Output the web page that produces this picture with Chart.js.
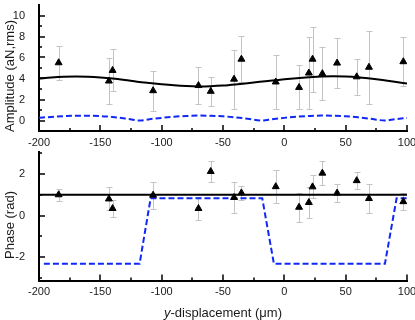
<!DOCTYPE html>
<html lang="en">
<head>
<meta charset="UTF-8">
<title>Amplitude and phase vs y-displacement</title>
<script src="https://cdn.jsdelivr.net/npm/chart.js"></script>
<style>
  body { margin: 0; background: #fff; }
  #wrap { position: relative; width: 415px; height: 320px; }
  canvas { position: absolute; left: 0; }
  #ampChart { top: 0; }
  #phaseChart { top: 140px; }
</style>
</head>
<body>
<div id="wrap">
  <canvas id="ampChart" width="415" height="150"></canvas>
  <canvas id="phaseChart" width="415" height="180"></canvas>
</div>
<script>
// measured points, y-displacement in um
const posX = [-184, -143, -140, -107, -70, -60, -41, -35, -7, 12, 20, 23, 31, 43, 59, 69, 97];
const ampY = [5.5, 3.76, 4.77, 2.84, 3.33, 2.78, 3.94, 5.84, 3.67, 3.15, 4.52, 5.84, 4.46, 5.47, 4.16, 5.07, 5.6];
const ampErr = [1.6, 2.2, 2.0, 1.9, 1.75, 1.4, 2.8, 2.2, 2.6, 2.1, 3.45, 3.1, 2.5, 2.35, 1.7, 3.5, 2.35];
const phaseY = [1.0, 0.8, 0.34, 0.98, 0.34, 2.12, 0.87, 1.09, 1.39, 0.4, 0.63, 1.38, 2.04, 1.08, 1.68, 0.82, 0.67];
const phaseErr = [0.3, 0.55, 0.4, 0.65, 0.55, 0.5, 0.75, 0.35, 0.8, 0.7, 0.75, 0.55, 0.57, 0.45, 0.4, 0.7, 0.42];

// fitted amplitude (solid black)
const fitX = [-200, -190, -180, -170, -160, -150, -140, -130, -120, -110, -100, -90, -80, -70, -60, -50,
              -40, -30, -20, -10, 0, 10, 20, 30, 40, 50, 60, 70, 80, 90, 100];
const ampFit = [4.0, 4.1, 4.17, 4.2, 4.17, 4.1, 4.0, 3.86, 3.7, 3.57, 3.45, 3.35, 3.28, 3.25, 3.27, 3.33,
                3.43, 3.55, 3.68, 3.8, 3.92, 4.03, 4.12, 4.2, 4.22, 4.2, 4.13, 4.0, 3.85, 3.68, 3.52];
// fitted phase (solid black)
const phaseFitX = [-200, 100];
const phaseFit = [1.0, 1.0];

// model curves (blue dashed)
const modelAmpX = [-200, -190, -180, -170, -160, -150, -140, -130, -118, -110, -100, -90, -80, -70, -60, -50,
                   -40, -30, -18, -10, 0, 10, 20, 30, 40, 50, 60, 70, 82, 90, 100];
const modelAmp = [0.26, 0.34, 0.41, 0.46, 0.46, 0.42, 0.33, 0.2, 0.0, 0.12, 0.25, 0.36, 0.43, 0.47, 0.45, 0.4,
                  0.3, 0.17, 0.0, 0.12, 0.25, 0.36, 0.43, 0.47, 0.45, 0.4, 0.3, 0.17, 0.0, 0.12, 0.25];
const modelPhaseX = [-196, -118, -109, -18, -8.5, 82, 91.5, 100];
const modelPhase = [-2.32, -2.32, 0.83, 0.83, -2.32, -2.32, 0.83, 0.83];

// axes
const xTicks = [-200, -150, -100, -50, 0, 50, 100];
const xMinor = [-175, -125, -75, -25, 25, 75];
const ampTicks = [0, 2, 4, 6, 8, 10];
const ampMinor = [-1, 1, 3, 5, 7, 9];
const phaseTicks = [-2, 0, 2];
const phaseMinor = [-3, -1, 1, 3];

const FONT = 'Arial, "Liberation Sans", sans-serif';
const TEXT = '#1a1a1a';
const BLUE = '#1028f5';

const pts = (xs, ys) => xs.map((x, i) => ({ x: x, y: ys[i] }));

// grey error bars under the markers
const errorBars = {
  id: 'errorBars',
  beforeDatasetsDraw(chart, args, o) {
    const { ctx, scales: { x, y } } = chart;
    ctx.save();
    ctx.strokeStyle = '#c4c4c4';
    ctx.lineWidth = 1;
    o.xs.forEach((v, i) => {
      const px = Math.round(x.getPixelForValue(v)) + 0.5;
      const top = Math.round(y.getPixelForValue(o.ys[i] + o.err[i])) + 0.5;
      const bot = Math.round(y.getPixelForValue(o.ys[i] - o.err[i])) + 0.5;
      ctx.beginPath();
      ctx.moveTo(px, top); ctx.lineTo(px, bot);
      ctx.moveTo(px - 3, top); ctx.lineTo(px + 3, top);
      ctx.moveTo(px - 3, bot); ctx.lineTo(px + 3, bot);
      ctx.stroke();
    });
    ctx.restore();
  }
};

// inward tick marks, Origin style
const inTicks = {
  id: 'inTicks',
  afterDraw(chart, args, o) {
    const { ctx, chartArea: a, scales: { x, y } } = chart;
    ctx.save();
    ctx.strokeStyle = '#000';
    ctx.lineWidth = 1.5;
    ctx.beginPath();
    const xm = (list, len) => list.forEach(v => {
      const px = Math.round(x.getPixelForValue(v));
      ctx.moveTo(px, a.bottom); ctx.lineTo(px, a.bottom - len);
    });
    const ym = (list, len) => list.forEach(v => {
      const py = Math.round(y.getPixelForValue(v));
      if (py < a.top || py > a.bottom) return;
      ctx.moveTo(a.left, py); ctx.lineTo(a.left + len, py);
    });
    xm(xTicks, 6); xm(xMinor, 3);
    ym(o.major, 6); ym(o.minor, 3);
    ctx.stroke();
    ctx.restore();
  }
};

// axis titles (the x title has an italic y)
const axisText = {
  id: 'axisText',
  afterDraw(chart, args, o) {
    const { ctx, chartArea: a } = chart;
    ctx.save();
    ctx.fillStyle = TEXT;
    ctx.textBaseline = 'middle';
    ctx.font = '13px ' + FONT;
    ctx.textAlign = 'center';
    ctx.save();
    ctx.translate(10, (a.top + a.bottom) / 2 + o.shift);
    ctx.rotate(-Math.PI / 2);
    ctx.fillText(o.yTitle, 0, 0);
    ctx.restore();
    if (o.xTitle) {
      const italic = 'italic 13px ' + FONT;
      const plain = '13px ' + FONT;
      ctx.font = italic;
      const w1 = ctx.measureText(o.xTitle[0]).width;
      ctx.font = plain;
      const w2 = ctx.measureText(o.xTitle[1]).width;
      const left = (a.left + a.right) / 2 - (w1 + w2) / 2;
      ctx.textAlign = 'left';
      ctx.font = italic;
      ctx.fillText(o.xTitle[0], left, o.xTitleY);
      ctx.font = plain;
      ctx.fillText(o.xTitle[1], left + w1, o.xTitleY);
    }
    ctx.restore();
  }
};

function makeChart(id, cfg) {
  return new Chart(document.getElementById(id), {
    type: 'scatter',
    data: {
      datasets: [{
        data: pts(posX, cfg.ys),
        pointStyle: 'triangle',
        pointRadius: 4,
        backgroundColor: '#000',
        borderColor: '#000',
        borderWidth: 1,
        order: 0
      }, {
        data: pts(cfg.fitX, cfg.fit),
        showLine: true,
        pointRadius: 0,
        borderColor: '#000',
        borderWidth: 2,
        cubicInterpolationMode: 'monotone',
        order: 1
      }, {
        data: pts(cfg.modelX, cfg.model),
        showLine: true,
        pointRadius: 0,
        borderColor: BLUE,
        borderWidth: 2,
        borderDash: [6, 3],
        cubicInterpolationMode: cfg.smooth ? 'monotone' : 'default',
        tension: 0,
        order: 2
      }]
    },
    options: {
      responsive: false,
      animation: false,
      events: [],
      layout: { padding: { top: cfg.padTop, right: 8, left: 0, bottom: 0 } },
      scales: {
        x: {
          type: 'linear',
          min: -200, max: 100,
          grid: { display: false },
          border: { display: true, color: '#000', width: 2 },
          ticks: { color: TEXT, font: { family: FONT, size: 11 }, padding: -3 },
          afterBuildTicks: s => { s.ticks = xTicks.map(v => ({ value: v })); },
          afterFit: s => { s.height = cfg.xHeight; s.paddingLeft = 0; s.paddingRight = 0; }
        },
        y: {
          min: cfg.yMin, max: cfg.yMax,
          grid: { display: false },
          border: { display: true, color: '#000', width: 2 },
          ticks: { color: TEXT, font: { family: FONT, size: 11 }, padding: 6 },
          afterBuildTicks: s => { s.ticks = cfg.major.map(v => ({ value: v })); },
          afterFit: s => { s.width = 39; s.paddingTop = 0; s.paddingBottom = 0; }
        }
      },
      plugins: {
        legend: { display: false },
        tooltip: { enabled: false },
        errorBars: { xs: posX, ys: cfg.ys, err: cfg.err },
        inTicks: { major: cfg.major, minor: cfg.minor },
        axisText: { yTitle: cfg.yTitle, shift: cfg.shift, xTitle: cfg.xTitle, xTitleY: cfg.xTitleY }
      }
    },
    plugins: [errorBars, inTicks, axisText]
  });
}

makeChart('ampChart', {
  ys: ampY, err: ampErr, fitX: fitX, fit: ampFit, modelX: modelAmpX, model: modelAmp, smooth: true,
  yMin: -1, yMax: 11, major: ampTicks, minor: ampMinor,
  padTop: 0, xHeight: 19,
  yTitle: 'Amplitude (aN,rms)', shift: 8
});

makeChart('phaseChart', {
  ys: phaseY, err: phaseErr, fitX: phaseFitX, fit: phaseFit, modelX: modelPhaseX, model: modelPhase, smooth: false,
  yMin: -3.12, yMax: 3.08, major: phaseTicks, minor: phaseMinor,
  padTop: 11.5, xHeight: 39.5,
  yTitle: 'Phase (rad)', shift: 9,
  xTitle: ['y', '-displacement (\u03bcm)'], xTitleY: 173
});
</script>
</body>
</html>
